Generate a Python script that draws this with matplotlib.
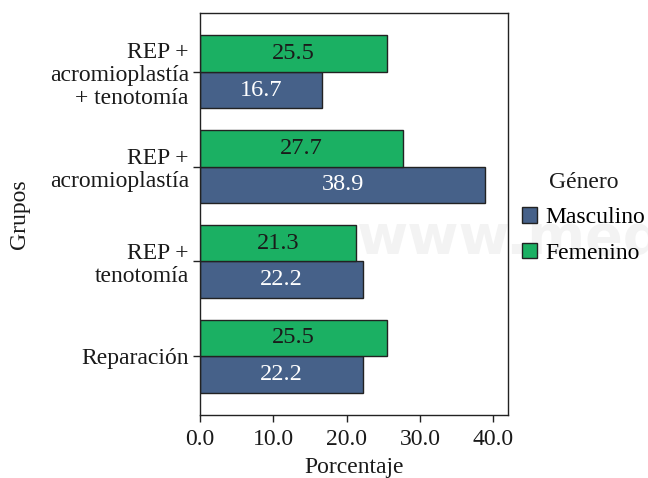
import numpy as np
import matplotlib.pyplot as plt

plt.rcParams['font.family'] = ['Liberation Serif', 'DejaVu Serif']

grupos = ['REP +\nacromioplastía\n+ tenotomía', 'REP +\nacromioplastía',
          'REP +\ntenotomía', 'Reparación']
masculino = [16.7, 38.9, 22.2, 22.2]
femenino = [25.5, 27.7, 21.3, 25.5]

azul = '#466189'
verde = '#1bb063'
fs = 17

fig = plt.figure(figsize=(6.48, 4.78), dpi=100)
ax = fig.add_axes([0.3086, 0.1318, 0.4753, 0.8410])

# marca de agua
fig.text(0.55, 0.5, 'www.medigraphic', fontsize=40, color='#f3f3f3',
         family='DejaVu Sans', fontweight='bold', va='center', zorder=-1)
ax.set_facecolor('none')

y = np.arange(len(grupos))
h = 0.385

b_m = ax.barh(y + h / 2, masculino, height=h, color=azul, edgecolor='#222222',
              linewidth=1, label='Masculino')
b_f = ax.barh(y - h / 2, femenino, height=h, color=verde, edgecolor='#222222',
              linewidth=1, label='Femenino')

for i in range(len(grupos)):
    ax.text(masculino[i] / 2, y[i] + h / 2, '%.1f' % masculino[i],
            ha='center', va='center', color='white', fontsize=17.5)
    ax.text(femenino[i] / 2, y[i] - h / 2, '%.1f' % femenino[i],
            ha='center', va='center', color='#1a1a1a', fontsize=17.5)

ax.set_xlim(0, 42)
ax.set_ylim(3.62, -0.62)
ax.set_xticks([0, 10, 20, 30, 40])
ax.set_xticklabels(['0.0', '10.0', '20.0', '30.0', '40.0'])
ax.set_yticks(y)
ax.set_yticklabels(grupos, linespacing=1.15)
ax.tick_params(labelsize=fs, length=5, width=1, colors='#222222',
               labelcolor='#1a1a1a', pad=3)
ax.tick_params(axis='x', pad=5)
for s in ax.spines.values():
    s.set_linewidth(1)
    s.set_color('#222222')

ax.set_xlabel('Porcentaje', fontsize=fs, labelpad=5, color='#1a1a1a')
ax.set_ylabel('Grupos', fontsize=fs, labelpad=14, color='#1a1a1a')

leg = ax.legend(handles=[b_m, b_f], title='Género', loc='center left',
                bbox_to_anchor=(1.015, 0.49), frameon=False, fontsize=fs,
                title_fontsize=fs, handlelength=0.65, handleheight=0.65,
                handletextpad=0.35, labelspacing=0.6, borderaxespad=0)
leg.get_title().set_color('#1a1a1a')
leg._legend_box.sep = 10

fig.savefig('out.png', dpi=100)
plt.close()
